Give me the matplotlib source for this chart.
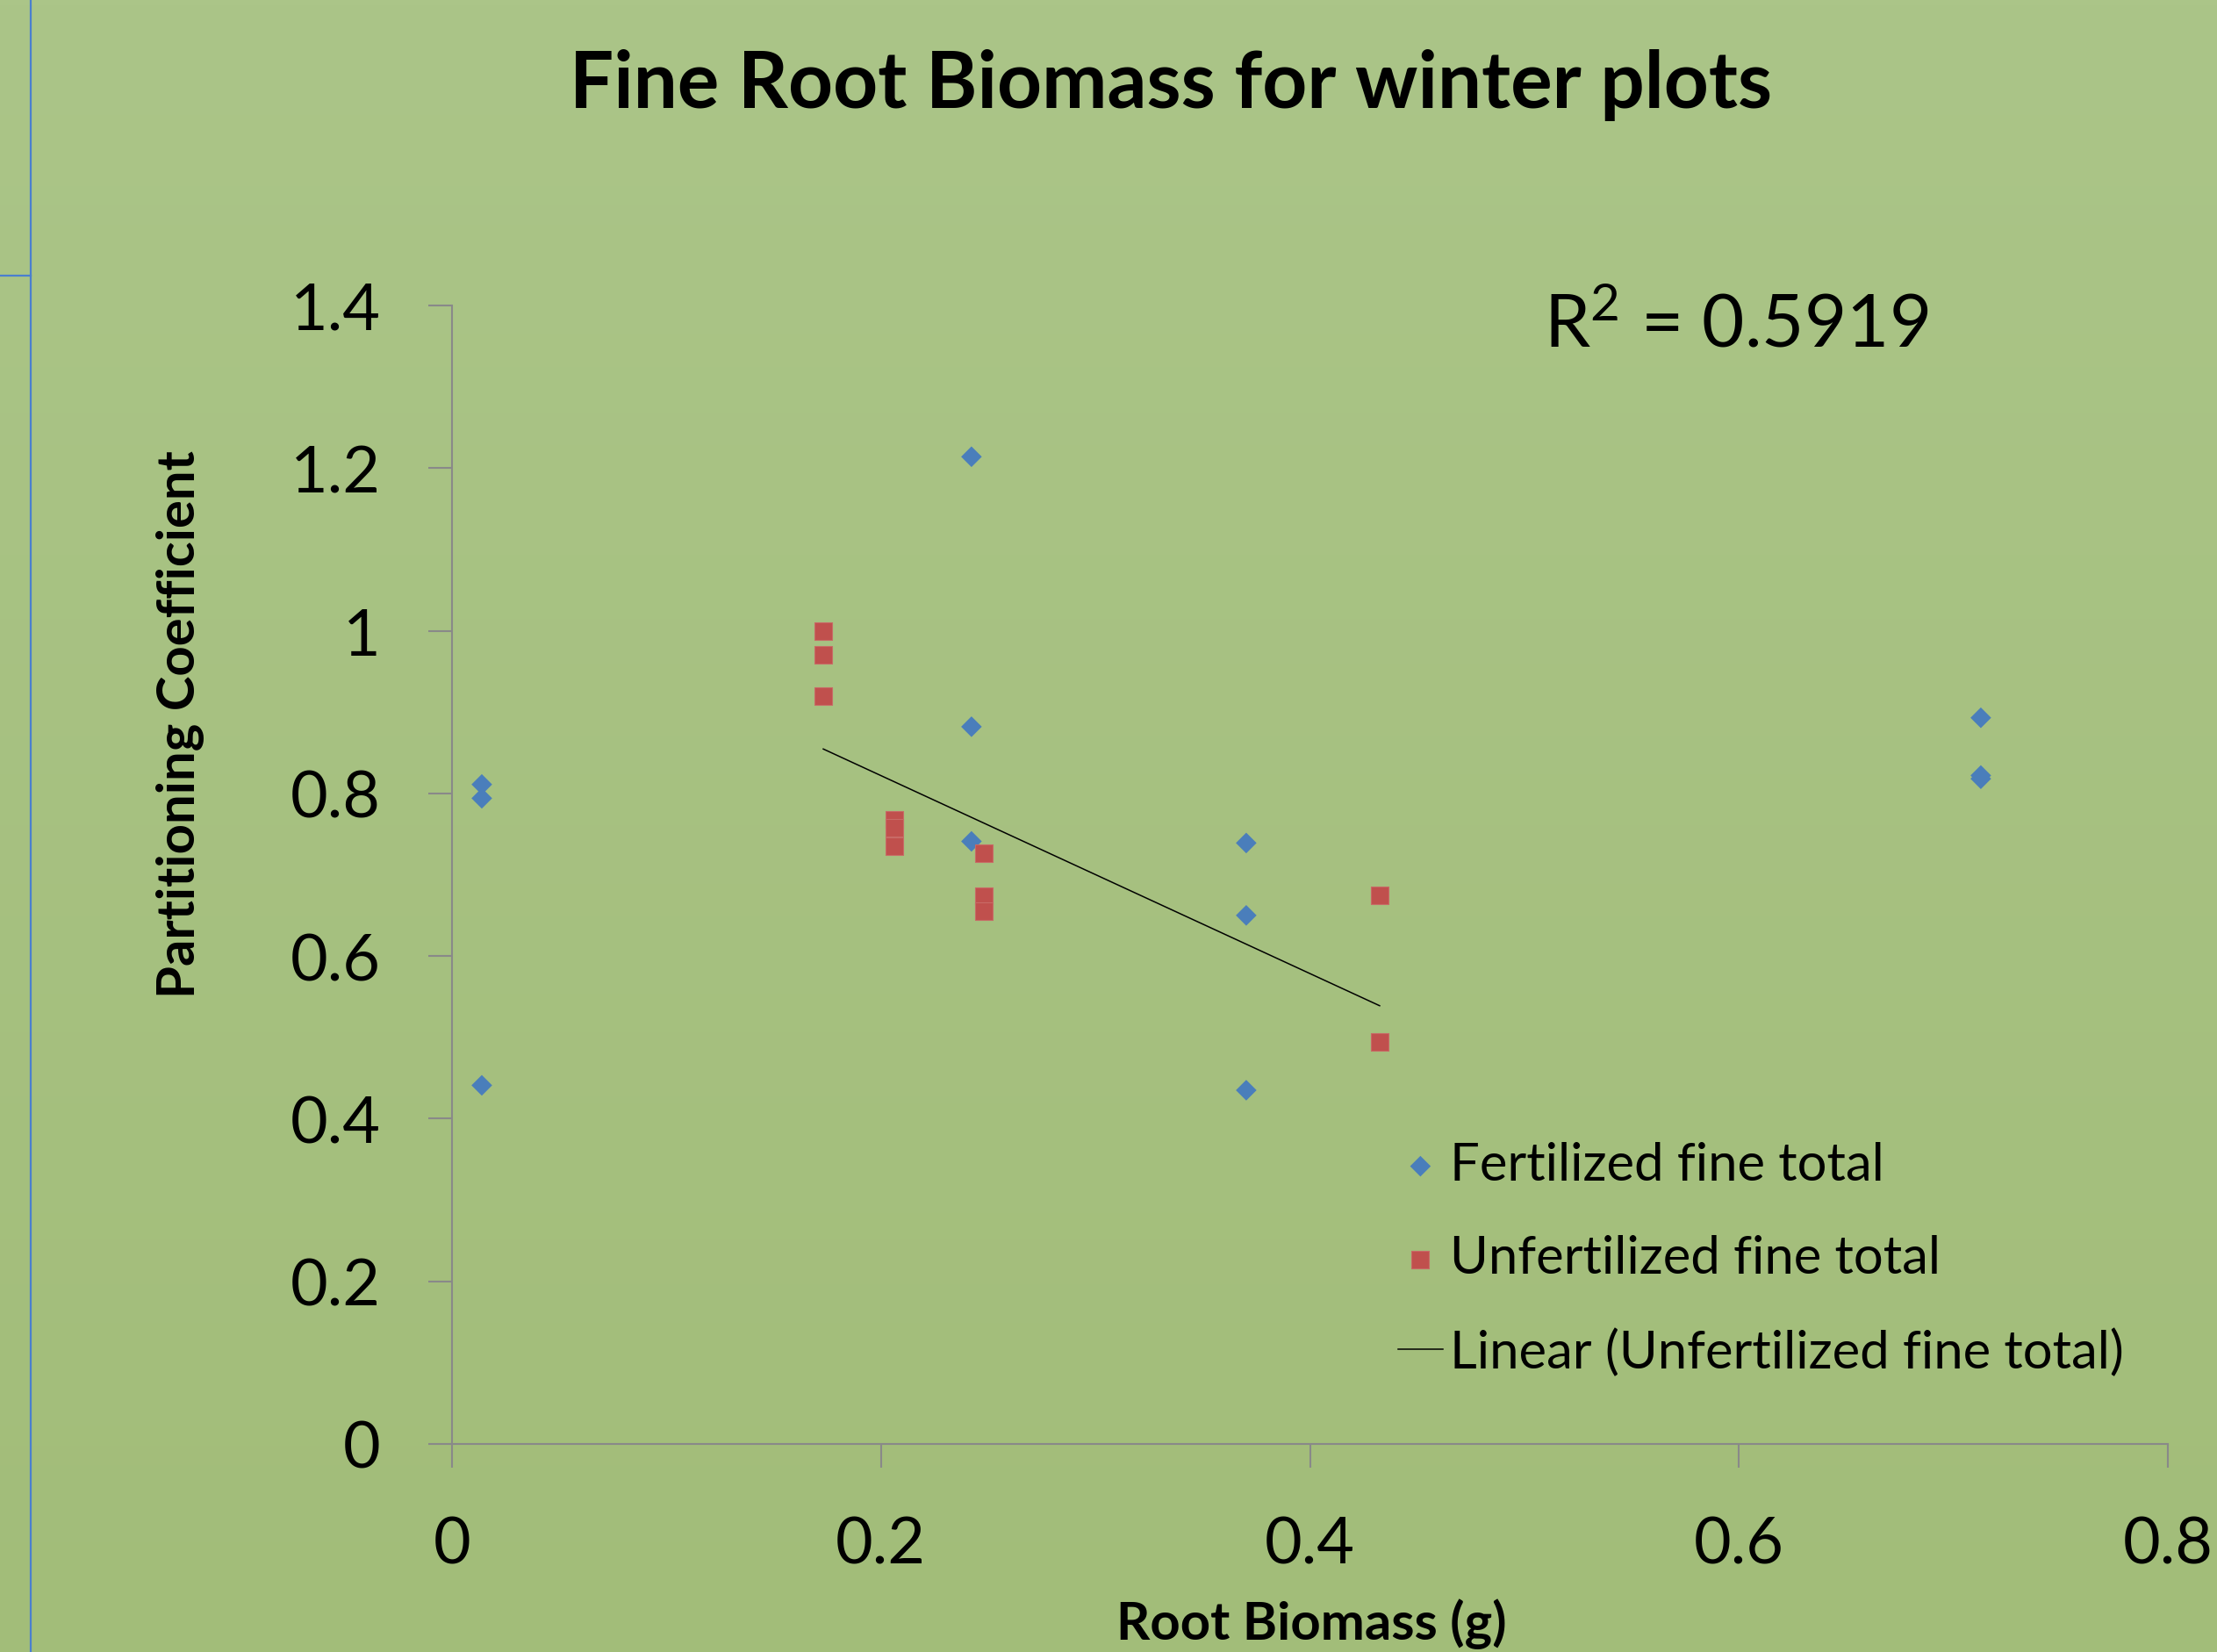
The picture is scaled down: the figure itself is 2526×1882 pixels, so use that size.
import numpy as np
import matplotlib

matplotlib.use("Agg")

import matplotlib.pyplot as plt  # noqa: E402
from matplotlib.lines import Line2D  # noqa: E402

# data
fert_x = [0.0139, 0.0139, 0.0139, 0.2422, 0.2422, 0.2422,
          0.3703, 0.3703, 0.3703, 0.7128, 0.7128, 0.7128]
fert_y = [0.811, 0.794, 0.441, 1.214, 0.882, 0.741,
          0.739, 0.650, 0.435, 0.893, 0.822, 0.818]
unfert_x = [0.1731, 0.1731, 0.1731, 0.2062, 0.2062, 0.2062,
            0.2480, 0.2480, 0.2480, 0.4325, 0.4325]
unfert_y = [1.000, 0.970, 0.920, 0.768, 0.758, 0.735,
            0.726, 0.674, 0.655, 0.675, 0.494]
x_ticks = [0, 0.2, 0.4, 0.6, 0.8]
y_ticks = [0, 0.2, 0.4, 0.6, 0.8, 1.0, 1.2, 1.4]
r2_label = "R$^{2}$ = 0.5919"

W, H = 2526, 1883
plt.rcParams["font.family"] = ["Lato", "DejaVu Sans"]
plt.rcParams["mathtext.fontset"] = "custom"
plt.rcParams["mathtext.rm"] = "Lato"
plt.rcParams["mathtext.it"] = "Lato"
plt.rcParams["mathtext.default"] = "regular"

fig = plt.figure(figsize=(W / 100, H / 100), dpi=100)

# green background with a slight vertical gradient
bg = fig.add_axes([0, 0, 1, 1], zorder=-10)
top = np.array([171, 197, 136]) / 255
bot = np.array([162, 189, 121]) / 255
t = np.linspace(0, 1, 256)[:, None]
grad = (top[None, :] * (1 - t) + bot[None, :] * t)[:, None, :]
bg.imshow(grad, aspect="auto", extent=(0, 1, 0, 1))
bg.set_axis_off()

# thin blue lines on the left edge
fig.add_artist(Line2D([35 / W, 35 / W], [0, 1], transform=fig.transFigure,
                      color="#4a7fcf", lw=1.6))
fig.add_artist(Line2D([0, 35 / W], [1 - 315 / H, 1 - 315 / H],
                      transform=fig.transFigure, color="#4a7fcf", lw=1.6))

ax = fig.add_axes([515 / W, 237 / H, 1955 / W, 1297 / H])
ax.set_facecolor("none")

ax.scatter(fert_x, fert_y, marker="D", s=12 ** 2, color="#4a7ebb",
           edgecolors="none", label="Fertilized fine total", zorder=3)
ax.scatter(unfert_x, unfert_y, marker="s", s=14 ** 2, color="#c0504d",
           edgecolors="#c86a66", linewidths=0.8,
           label="Unfertilized fine total", zorder=3)

# linear trendline of the unfertilized series
k, b = np.polyfit(unfert_x, unfert_y, 1)
xs = np.array([min(unfert_x), max(unfert_x)])
ax.plot(xs, k * xs + b, color="black", lw=1.1,
        label="Linear (Unfertilized fine total)", zorder=2)

ax.set_xlim(0, 0.8)
ax.set_ylim(0, 1.4)
ax.set_xticks(x_ticks)
ax.set_yticks(y_ticks)
ax.set_xticklabels([f"{v:g}" for v in x_ticks])
ax.set_yticklabels([f"{v:g}" for v in y_ticks])
for side in ("top", "right"):
    ax.spines[side].set_visible(False)
for side in ("left", "bottom"):
    ax.spines[side].set_color("#898989")
    ax.spines[side].set_linewidth(1.5)
ax.tick_params(length=19.4, width=1.5, color="#898989", pad=39,
               labelsize=53, labelcolor="black")

fig.text(1334 / W, 1 - 97 / H, "Fine Root Biomass for winter plots",
         ha="center", va="center", fontsize=64, fontweight="bold")
fig.text(1494 / W, 1 - 1868 / H, "Root Biomass (g)", ha="center",
         va="baseline", fontsize=43, fontweight="bold")
fig.text(206 / W, 1 - 825 / H, "Partitioning Coefficient", ha="center",
         va="center", rotation=90, fontsize=43, fontweight="bold")
fig.text(1759 / W, 1 - 395 / H, r2_label, ha="left", va="baseline",
         fontsize=60)

ax.legend(loc="center left", bbox_to_anchor=(1593 / W, 1 - 1435 / H),
          bbox_transform=fig.transFigure, frameon=False, fontsize=43,
          borderpad=0, borderaxespad=0, handlelength=0.85,
          handletextpad=0.13, labelspacing=0.87, markerscale=1.0)

fig.savefig("out.png", dpi=100)
